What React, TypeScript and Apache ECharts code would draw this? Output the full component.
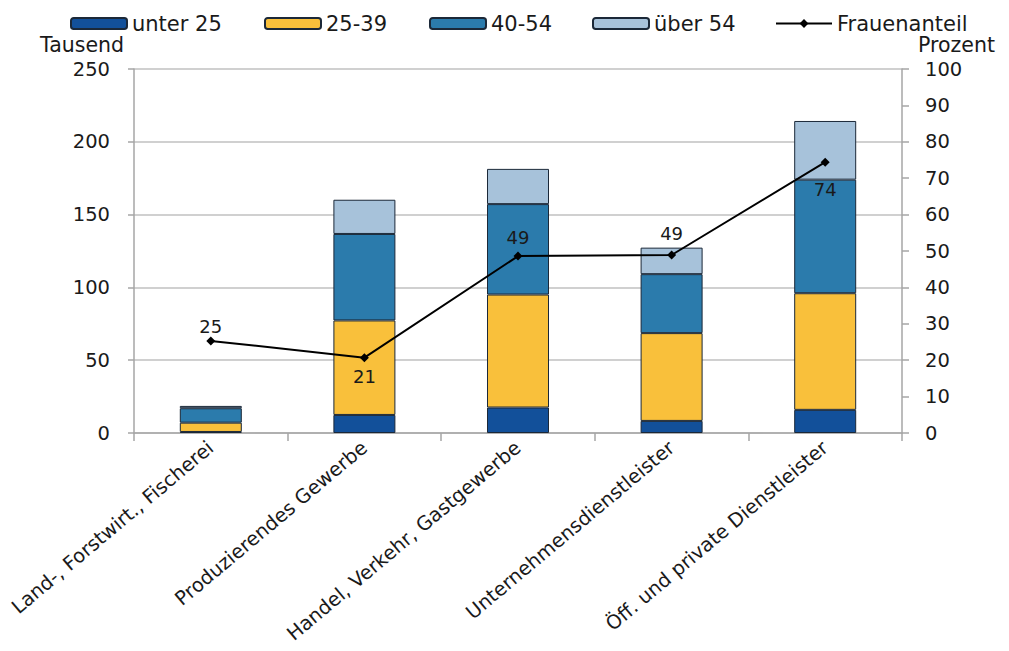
import React, { useEffect, useRef } from "react";
import * as echarts from "echarts";

const categories = [
  "Land-, Forstwirt., Fischerei",
  "Produzierendes Gewerbe",
  "Handel, Verkehr, Gastgewerbe",
  "Unternehmensdienstleister",
  "Öff. und private Dienstleister",
];
const unter25 = [0.7, 12.4, 17.5, 8.3, 15.9];
const a25_39 = [6.4, 64.9, 77.6, 60.3, 80.1];
const a40_54 = [9.9, 59.4, 62.1, 40.5, 78.0];
const ueber54 = [1.6, 23.5, 24.2, 18.2, 40.3];
const frauenanteil = [25.3, 20.7, 48.6, 48.9, 74.4];
const frauenLabelPos = ["top", "bottom", "top", "top", "bottom"];
const frauenLabelDist = [1, 5, 5, 8, 14];
const leftTicks = [0, 50, 100, 150, 200, 250];
const rightTicks = [0, 10, 20, 30, 40, 50, 60, 70, 80, 90, 100];

const seriesNames = ["unter 25", "25-39", "40-54", "über 54", "Frauenanteil"];
const colors = ["#12509A", "#F9C03B", "#2B7BAC", "#A7C2DA", "#000000"];
const legendLefts = [70, 264, 429, 592, 775];

export default function App() {
  const ref = useRef<HTMLDivElement>(null);
  useEffect(() => {
    if (!ref.current) return;
    const chart = echarts.init(ref.current, undefined, { renderer: "svg" });
    const font = "DejaVu Sans";
    const textColor = "#1a1a1a";
    const barData = [unter25, a25_39, a40_54, ueber54];
    const barSeries = barData.map((d, i) => ({
      name: seriesNames[i],
      type: "bar",
      stack: "total",
      barWidth: 62,
      data: d,
      itemStyle: { color: colors[i], borderColor: "#1b2838", borderWidth: 1 },
    }));
    chart.setOption({
      animation: false,
      backgroundColor: "#ffffff",
      legend: seriesNames.map((n, i) => ({
        data: [n],
        left: legendLefts[i],
        top: 13,
        itemWidth: 56,
        itemHeight: 11,
        itemGap: 4,
        padding: 0,
        textStyle: {
          fontFamily: font,
          fontSize: 21,
          color: textColor,
        },
      })),
      grid: { left: 134, right: 107, top: 69, bottom: 218, containLabel: false },
      xAxis: {
        type: "category",
        data: categories,
        axisLine: { lineStyle: { color: "#a6a6a6", width: 1.5 } },
        axisTick: { show: true, length: 8, lineStyle: { color: "#a6a6a6", width: 1.5 } },
        axisLabel: {
          rotate: 40,
          interval: 0,
          margin: 12,
          fontFamily: font,
          fontSize: 19.5,
          color: textColor,
        },
      },
      yAxis: [
        {
          type: "value",
          min: 0,
          max: 250,
          interval: 50,
          name: "Tausend",
          nameLocation: "end",
          nameGap: 14,
          nameTextStyle: {
            fontFamily: font,
            fontSize: 20.5,
            color: textColor,
            align: "right",
            padding: [0, 10, 0, 0],
          },
          axisLine: { show: true, lineStyle: { color: "#a6a6a6", width: 1.5 } },
          axisTick: { show: true, length: 6, lineStyle: { color: "#a6a6a6", width: 1.5 } },
          splitLine: { show: true, lineStyle: { color: "#c0c0c0", width: 1.5 } },
          axisLabel: {
            margin: 24,
            fontFamily: font,
            fontSize: 19.5,
            color: textColor,
            customValues: leftTicks,
          },
        },
        {
          type: "value",
          min: 0,
          max: 100,
          interval: 10,
          name: "Prozent",
          nameLocation: "end",
          nameGap: 14,
          nameTextStyle: {
            fontFamily: font,
            fontSize: 20.5,
            color: textColor,
            align: "left",
            padding: [0, 0, 0, 16],
          },
          axisLine: { show: true, lineStyle: { color: "#a6a6a6", width: 1.5 } },
          axisTick: { show: true, length: 7, lineStyle: { color: "#a6a6a6", width: 1.5 } },
          splitLine: { show: false },
          axisLabel: {
            margin: 23,
            fontFamily: font,
            fontSize: 19.5,
            color: textColor,
            customValues: rightTicks,
          },
        },
      ],
      series: [
        ...barSeries,
        {
          name: seriesNames[4],
          type: "line",
          yAxisIndex: 1,
          data: frauenanteil.map((v, i) => ({
            value: v,
            label: { position: frauenLabelPos[i], distance: frauenLabelDist[i] },
          })),
          symbol: "diamond",
          symbolSize: 9,
          lineStyle: { color: "#000000", width: 2 },
          itemStyle: { color: "#000000" },
          label: {
            show: true,
            fontFamily: font,
            fontSize: 18,
            color: textColor,
            formatter: (p: any) => String(Math.round(p.value)),
          },
          z: 10,
        },
      ],
    });
    return () => chart.dispose();
  }, []);
  return (
    <div
      ref={ref}
      style={{ position: "fixed", left: 0, top: 0, width: 1009, height: 651 }}
    />
  );
}
